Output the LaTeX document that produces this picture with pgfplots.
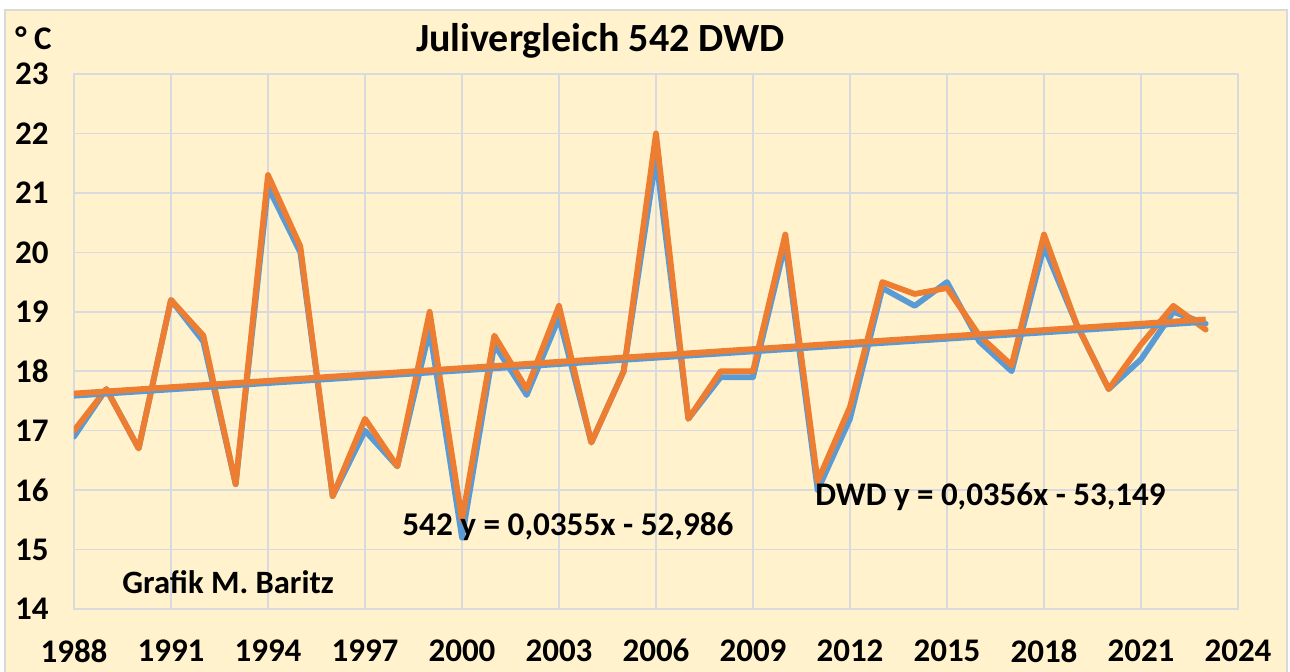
\documentclass[border=0pt]{standalone}
\usepackage{fontspec}
\setmainfont{Carlito}
\usepackage{pgfplots}
\pgfplotsset{compat=1.18}
\definecolor{cream}{HTML}{FFF2CC}
\definecolor{framec}{HTML}{D9D9D9}
\definecolor{gridc}{HTML}{D9D9E0}
\definecolor{xlblue}{HTML}{5B9BD5}
\definecolor{xlorange}{HTML}{ED7D31}
\begin{document}
\begin{tikzpicture}
\useasboundingbox (-37pt,-31pt) rectangle (608pt,304.5pt);
\fill[white] (-37pt,-31pt) rectangle (608pt,304.5pt);
\fill[cream] (-34.5pt,-40pt) rectangle (606.5pt,299.5pt);
\draw[framec, line width=1.2pt] (-34.5pt,-40pt) -- (-34.5pt,299.5pt) -- (606.5pt,299.5pt) -- (606.5pt,-40pt);
\begin{axis}[
  scale only axis, width=582pt, height=267.5pt,
  at={(0pt,0pt)}, anchor=south west,
  xmin=1988, xmax=2024, ymin=14, ymax=23,
  xtick={1988,1991,1994,1997,2000,2003,2006,2009,2012,2015,2018,2021,2024},
  ytick={14,15,16,17,18,19,20,21,22,23},
  grid=major,
  major grid style={draw=gridc, line width=0.75pt},
  axis line style={draw=gridc, line width=0.75pt},
  tick style={draw=none},
  /pgf/number format/assume math mode=true,
  /pgf/number format/set thousands separator={},
  tick label style={font=\bfseries\fontsize{16.5}{19}\selectfont},
  xticklabel style={anchor=north, inner sep=0pt, yshift=-15pt},
  yticklabel style={anchor=east, inner sep=0pt, xshift=-12.5pt},
  line join=round, line cap=round,
]
% 542 (blue)
\addplot[xlblue, line width=2.9pt, mark=none] coordinates {
(1988,16.9) (1989,17.7) (1990,16.7) (1991,19.2) (1992,18.5) (1993,16.1)
(1994,21.1) (1995,20.0) (1996,15.9) (1997,17.0) (1998,16.4) (1999,18.7)
(2000,15.2) (2001,18.45) (2002,17.6) (2003,18.9) (2004,16.8) (2005,18.0)
(2006,21.6) (2007,17.2) (2008,17.9) (2009,17.9) (2010,20.15) (2011,16.0)
(2012,17.2) (2013,19.4) (2014,19.1) (2015,19.5) (2016,18.5) (2017,18.0)
(2018,20.1) (2019,18.8) (2020,17.7) (2021,18.2) (2022,19.0) (2023,18.8)
};
% DWD (orange)
\addplot[xlorange, line width=2.9pt, mark=none] coordinates {
(1988,17.0) (1989,17.7) (1990,16.7) (1991,19.2) (1992,18.6) (1993,16.1)
(1994,21.3) (1995,20.1) (1996,15.9) (1997,17.2) (1998,16.4) (1999,19.0)
(2000,15.5) (2001,18.6) (2002,17.7) (2003,19.1) (2004,16.8) (2005,18.0)
(2006,22.0) (2007,17.2) (2008,18.0) (2009,18.0) (2010,20.3) (2011,16.15)
(2012,17.4) (2013,19.5) (2014,19.3) (2015,19.4) (2016,18.6) (2017,18.1)
(2018,20.3) (2019,18.8) (2020,17.7) (2021,18.45) (2022,19.1) (2023,18.7)
};
% trend lines
\addplot[xlblue, line width=2.9pt, mark=none, line cap=butt] coordinates {(1988,17.588) (2023,18.8305)};
\addplot[xlorange, line width=2.9pt, mark=none, line cap=butt] coordinates {(1988,17.6248) (2023,18.8708)};
\end{axis}
\node[anchor=base, inner sep=0pt, font=\bfseries\fontsize{20}{22}\selectfont] at (263.25pt,278.5pt) {Julivergleich 542 DWD};
\node[anchor=base west, inner sep=0pt, font=\bfseries\fontsize{16.5}{19}\selectfont] at (-29.5pt,279.5pt) {° C};
\node[anchor=base west, inner sep=0pt, font=\bfseries\fontsize{16.6}{19}\selectfont] at (164pt,37pt) {542 y = 0,0355x - 52,986};
\node[anchor=base west, inner sep=0pt, font=\bfseries\fontsize{16.5}{19}\selectfont] at (370.5pt,52pt) {DWD y = 0,0356x - 53,149};
\node[anchor=base west, inner sep=0pt, font=\bfseries\fontsize{16.3}{19}\selectfont] at (24pt,8pt) {Grafik M. Baritz};
\end{tikzpicture}
\end{document}
